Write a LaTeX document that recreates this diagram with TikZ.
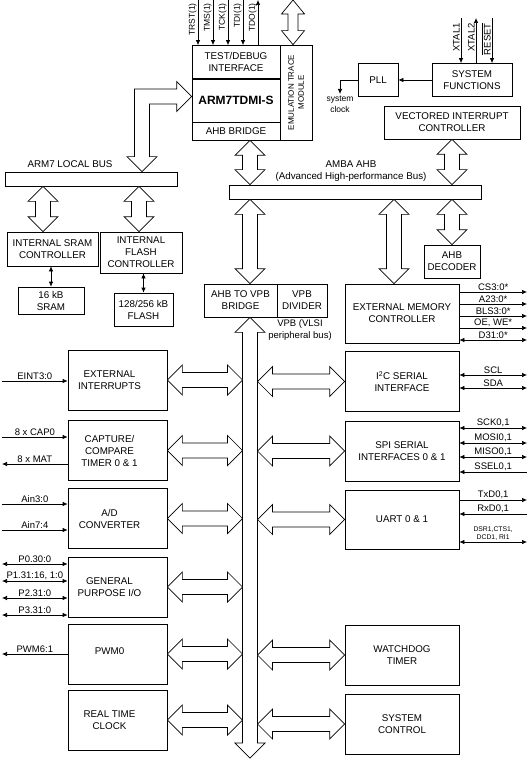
\documentclass[tikz,border=0pt]{standalone}
\usepackage{fontspec}
\setmainfont{Liberation Sans}
\usepackage{tikz}
\usetikzlibrary{calc}
\usetikzlibrary{arrows.meta}
\usetikzlibrary{positioning}
\tikzstyle{blk}=[draw, rectangle, fill=white, align=center, inner sep=1pt]
\tikzstyle{bar}=[draw, rectangle, fill=white, minimum height=14]
\tikzstyle{bus}=[draw, fill=white]
\tikzstyle{sig}=[draw]
\tikzstyle{ahead}=[-{Latex[length=5pt,width=4.5pt]}]
\tikzstyle{atail}=[{Latex[length=5pt,width=4.5pt]}-]
\tikzstyle{abi}=[{Latex[length=5pt,width=4.5pt]}-{Latex[length=5pt,width=4.5pt]}]
\tikzstyle{lbl}=[inner sep=1pt, font=\fontsize{9.5}{10}\selectfont]
\tikzstyle{pin}=[inner sep=0pt, rotate=90, anchor=south east, font=\fontsize{8.5}{9}\selectfont]
\def\fatH{15pt}
\def\fatS{7.5pt}
\def\fatL{15pt}
\def\busv#1#2{\draw[bus] let \p1=#1, \p2=#2 in (\x1,\y1) -- ({\x1+\fatH},{\y1-\fatL}) -- ({\x1+\fatS},{\y1-\fatL}) -- ({\x1+\fatS},{\y2+\fatL}) -- ({\x1+\fatH},{\y2+\fatL}) -- (\x1,\y2) -- ({\x1-\fatH},{\y2+\fatL}) -- ({\x1-\fatS},{\y2+\fatL}) -- ({\x1-\fatS},{\y1-\fatL}) -- ({\x1-\fatH},{\y1-\fatL}) -- cycle;}
\def\bush#1#2{\draw[bus] let \p1=#1, \p2=#2 in (\x1,\y1) -- ({\x1+\fatL},{\y1+\fatH}) -- ({\x1+\fatL},{\y1+\fatS}) -- ({\x2-\fatL},{\y1+\fatS}) -- ({\x2-\fatL},{\y1+\fatH}) -- (\x2,\y1) -- ({\x2-\fatL},{\y1-\fatH}) -- ({\x2-\fatL},{\y1-\fatS}) -- ({\x1+\fatL},{\y1-\fatS}) -- ({\x1+\fatL},{\y1-\fatH}) -- cycle;}

\begin{document}
\begin{tikzpicture}[x=1pt, y=-1pt, line width=0.7pt, font=\fontsize{9.8}{12}\selectfont]
    \path [fill=white] (0,0) rectangle (529,762);
    \useasboundingbox (0,0) rectangle (529,762);

    \node [blk, minimum width=88, minimum height=33]  (TD)   at (236,62)    {TEST/DEBUG\\INTERFACE};
    \node [blk, minimum width=88, minimum height=43, font=\fontsize{12}{14}\selectfont\bfseries] (CPU) at (236,100.5) {ARM7TDMI-S};
    \node [blk, minimum width=88, minimum height=18]  (AB)   at (236,131)   {AHB BRIDGE};
    \node [blk, minimum width=32, minimum height=95]  (ETM)  at (296,92.5)  {};
    \node [rotate=90, align=center, font=\fontsize{8}{10}\selectfont] (ETMt) at (ETM.center) {EMULATION TRACE\\MODULE};
    \node [blk, minimum width=40, minimum height=33]  (PLL)  at (378,80)    {PLL};
    \node [blk, minimum width=80, minimum height=33]  (SF)   at (472,80)    {SYSTEM\\FUNCTIONS};
    \node [blk, minimum width=136, minimum height=33] (VIC)  at (452,122.5) {VECTORED INTERRUPT\\CONTROLLER};

    \node [bar, minimum width=172] (LB)   at (91,179)  {};
    \node [bar, minimum width=252] (AMBA) at (355,192) {};
    \node (LBt) at (70,164) {ARM7 LOCAL BUS};
    \node [align=center] (AMBAt) at (351,171) {AMBA AHB\\(Advanced High-performance Bus)};

    \node [blk, minimum width=91, minimum height=34] (SC) at (52.5,249)   {INTERNAL SRAM\\CONTROLLER};
    \node [blk, minimum width=82, minimum height=41] (FC) at (141,252.5)  {INTERNAL\\FLASH\\CONTROLLER};
    \node [blk, minimum width=66, minimum height=27] (SR) at (51,300.5)   {16 kB\\SRAM};
    \node [blk, minimum width=59, minimum height=33] (FL) at (143.5,309.5) {128/256 kB\\FLASH};

    \node [blk, minimum width=73, minimum height=33] (BRG) at (240.5,300.5) {AHB TO VPB\\BRIDGE};
    \node [blk, minimum width=50, minimum height=33] (DIV) at (302,300.5)   {VPB\\DIVIDER};
    \node [align=center, font=\fontsize{9.5}{12}\selectfont] (VPBt) at (300,330) {VPB (VLSI\\peripheral bus)};
    \node [blk, minimum width=56, minimum height=33]  (DEC) at (452,261.5) {AHB\\DECODER};
    \node [blk, minimum width=114, minimum height=59] (EMC) at (402,313.5) {EXTERNAL MEMORY\\CONTROLLER};

    \foreach \n/\y/\t in {EI/380/{EXTERNAL\\INTERRUPTS}, CT/450.5/{CAPTURE/\\COMPARE\\TIMER 0 \& 1}, AD/518.5/{A/D\\CONVERTER},
                          GP/587/{GENERAL\\PURPOSE I/O}, PW/654/{\raisebox{6pt}{PWM0}}, RT/720/{REAL TIME\\CLOCK}} {
        \node [blk, minimum width=99, minimum height=60] (\n) at (117.5,\y) {};
        \node [align=center] (\n t) at (109.5,\y) {\t};
    }

    \node [blk, minimum width=114, minimum height=60] (I2C) at (402,381.5) {I\textsuperscript{2}C SERIAL\\INTERFACE};
    \node [blk, minimum width=114, minimum height=60] (SPI) at (402,451)   {SPI SERIAL\\INTERFACES 0 \& 1};
    \node [blk, minimum width=114, minimum height=59] (UA)  at (402,519.5) {UART 0 \& 1};
    \node [blk, minimum width=114, minimum height=60] (WD)  at (402,655)   {WATCHDOG\\TIMER};
    \node [blk, minimum width=114, minimum height=60] (SYS) at (402,724)   {SYSTEM\\CONTROL};

    \coordinate (VE) at (250,758);
    \coordinate (VL) at (242.5,0);
    \coordinate (VR) at (257.5,0);
    \coordinate (EA) at (394,0);
    \coordinate (et) at (293,0);
    \coordinate (la) at (43,0);
    \coordinate (lb) at (139,0);
    \coordinate (lc) at (142,0);

    % wide buses
    {\def\fatH{11.5pt}\def\fatS{5pt}\def\fatL{14pt}\busv{(et)}{(et |- ETM.north)}}
    \busv{(VE |- AB.south)}{(VE |- AMBA.north)}
    \busv{(VIC.south)}{(VIC.south |- AMBA.north)}
    \busv{(VE |- AMBA.south)}{(VE |- BRG.north)}
    \busv{(EA |- AMBA.south)}{(EA |- EMC.north)}
    \busv{(DEC.north |- AMBA.south)}{(DEC.north)}
    \busv{(la |- LB.south)}{(la |- SC.north)}
    \busv{(lb |- LB.south)}{(lb |- FC.north)}
    \draw [bus] let \p1=([yshift=4pt]CPU.west), \p2=(lc |- LB.north) in
        (\x2,\y2) -- ({\x2+\fatH},{\y2+\fatL}) -- ({\x2+\fatS},{\y2+\fatL}) -- ({\x2+\fatS},{\y1-\fatS})
        -- ({\x1-\fatL},{\y1-\fatS}) -- ({\x1-\fatL},{\y1-\fatH}) -- (\x1,\y1) -- ({\x1-\fatL},{\y1+\fatH})
        -- ({\x1-\fatL},{\y1+\fatS}) -- ({\x2-\fatS},{\y1+\fatS}) -- ({\x2-\fatS},{\y2+\fatL}) -- ({\x2-\fatH},{\y2+\fatL}) -- cycle;
    \busv{(VE |- BRG.south)}{(VE)}
    \foreach \b in {EI,CT,AD,GP,PW,RT} \bush{(\b.east)}{(\b.east -| VL)};
    \foreach \b in {I2C,SPI,UA,WD,SYS} \bush{(\b.west -| VR)}{(\b.west)};

    % pins
    \foreach \x/\t/\a in {198/TRST(1)/ahead, 213/TMS(1)/ahead, 228/TCK(1)/ahead, 243/TDI(1)/ahead, 258/TDO(1)/atail} {
        \coordinate (j\x) at (\x,0);
        \draw [sig,\a] (j\x) -- (j\x |- TD.north);
        \node [pin] (p\x) at (\x-1,3) {\t};
    }
    \foreach \x/\t/\a in {461/XTAL1/ahead, 476/XTAL2/atail, 492/$\overline{\mbox{RESET}}$/ahead} {
        \coordinate (j\x) at (\x,18);
        \draw [sig,\a] (j\x) -- (j\x |- SF.north);
        \node [pin, font=\fontsize{9.5}{10}\selectfont] (p\x) at (\x-1,23) {\t};
    }
    \coordinate (ck) at (340,94);
    \draw [sig,ahead] (SF.west) -- (PLL.east);
    \draw [sig,ahead] (PLL.west) -| (ck);
    \node [align=center, below=1pt of ck, font=\fontsize{8.5}{11}\selectfont, inner sep=1pt] (ckt) {system\\clock};
    \draw [sig,abi] (SR.north |- SC.south) -- (SR.north);
    \draw [sig,abi] (FL.north |- FC.south) -- (FL.north);

    \foreach \y/\b/\t/\a in {381/EI/EINT3:0/ahead, 437/CT/8 x CAP0/ahead, 464/CT/8 x MAT/atail, 504/AD/Ain3:0/ahead, 530/AD/Ain7:4/ahead,
                            564/GP/P0.30:0/abi, 581/GP/{P1.31:16, 1:0}/abi, 598/GP/P2.31:0/abi, 615/GP/P3.31:0/abi, 654/PW/PWM6:1/atail} {
        \coordinate (l\y) at (2,\y);
        \draw [sig,\a] (l\y) -- (l\y -| \b.west) node [lbl, midway, above] (n\y) {\t};
    }
    \foreach \y/\b/\t/\a in {292/EMC/CS3:0*/ahead, 304/EMC/A23:0*/ahead, 316/EMC/BLS3:0*/ahead, 328/EMC/{OE, WE*}/ahead, 340/EMC/D31:0*/abi,
                            375/I2C/SCL/abi, 388/I2C/SDA/abi, 428/SPI/{SCK0,1}/abi, 443/SPI/{MOSI0,1}/abi, 457/SPI/{MISO0,1}/abi, 472/SPI/{SSEL0,1}/atail,
                            500/UA/{TxD0,1}/ahead, 514/UA/{RxD0,1}/atail} {
        \coordinate (r\y) at (527,\y);
        \draw [sig,\a] (r\y -| \b.east) -- (r\y) node [lbl, midway, above] (n\y) {\t};
    }
    \coordinate (r542) at (527,542);
    \draw [sig,abi] (r542 -| UA.east) -- (r542) node [lbl, midway, above, align=center, font=\fontsize{6.8}{8}\selectfont] (n542) {DSR1,CTS1,\\DCD1, RI1};

\end{tikzpicture}
\end{document}
